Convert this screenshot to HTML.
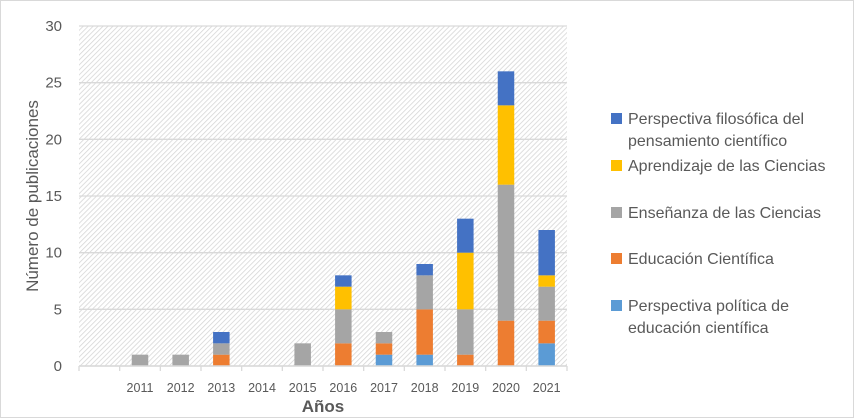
<!DOCTYPE html>
<html><head><meta charset="utf-8">
<style>
body{margin:0;background:#fff;}
svg{display:block;font-family:"Liberation Sans","DejaVu Sans",sans-serif;}
</style></head>
<body>
<svg width="854" height="418" viewBox="0 0 854 418">
<defs>
<pattern id="hatch" patternUnits="userSpaceOnUse" width="3.5" height="3.5" patternTransform="rotate(45)">
<rect width="3.5" height="3.5" fill="#fff"/>
<line x1="0" y1="0" x2="0" y2="3.5" stroke="#d4d4d4" stroke-width="1.5"/>
</pattern>
</defs>
<rect x="0.5" y="0.5" width="853" height="417" fill="#fff" stroke="#d9d9d9"/>
<rect x="79" y="26" width="488" height="340" fill="url(#hatch)"/>
<g id="grid"></g>
<g id="bars"></g>
<g id="xaxis"></g>
<g id="yaxis"></g>
<text transform="translate(38,196) rotate(-90)" text-anchor="middle" font-size="17" fill="#595959">Número de publicaciones</text>
<text x="323" y="412" text-anchor="middle" font-size="17" font-weight="bold" fill="#595959">Años</text>
<g id="legend"></g>
</svg>
<script>
const categories=["","2011","2012","2013","2014","2015","2016","2017","2018","2019","2020","2021"];
const seriesNames=["Perspectiva política de educación científica","Educación Científica","Enseñanza de las Ciencias","Aprendizaje de las Ciencias","Perspectiva filosófica del pensamiento científico"];
const politica=[0,0,0,0,0,0,0,1,1,0,0,2];
const educacion=[0,0,0,1,0,0,2,1,4,1,4,2];
const ensenanza=[0,1,1,1,0,2,3,1,3,4,12,3];
const aprendizaje=[0,0,0,0,0,0,2,0,0,5,7,1];
const filosofica=[0,0,0,1,0,0,1,0,1,3,3,4];
const yTicks=[0,5,10,15,20,25,30];
const colors=["#5b9bd5","#ed7d31","#a5a5a5","#ffc000","#4472c4"];
const series=[politica,educacion,ensenanza,aprendizaje,filosofica];
const NS="http://www.w3.org/2000/svg";
const x0=79,x1=567,yTop=26,yBot=366,yMax=30;
const slot=(x1-x0)/categories.length;
const xc=i=>x0+slot*(i+0.5);
const y=v=>yBot-(v/yMax)*(yBot-yTop);
function mk(tag,attrs,parent){const e=document.createElementNS(NS,tag);for(const k in attrs)e.setAttribute(k,attrs[k]);parent.appendChild(e);return e;}
const grid=document.getElementById('grid'),bars=document.getElementById('bars'),xa=document.getElementById('xaxis'),ya=document.getElementById('yaxis'),lg=document.getElementById('legend');
yTicks.forEach(t=>{
 const l=mk('line',{x1:x0,x2:x1,y1:y(t),y2:y(t),stroke:'#d9d9d9','stroke-width':1.3},grid);
 
 
 const tx=mk('text',{x:62,y:y(t)+5,'text-anchor':'end','font-size':15,fill:'#595959'},ya);
 tx.textContent=t;
 
 
});
const bw=16.5;
categories.forEach((c,i)=>{
 let acc=0;
 series.forEach((s,k)=>{
  const v=s[i];if(v<=0)return;
  const r=mk('rect',{x:xc(i)-bw/2,y:y(acc+v),width:bw,height:y(acc)-y(acc+v),fill:colors[k]},bars);
  
  
  acc+=v;
 });
 const tx=mk('text',{x:xc(i),y:392,'text-anchor':'middle','font-size':12.5,fill:'#595959'},xa);
 tx.textContent=c;
 
 
});
for(let i=0;i<=categories.length;i++){
 const t=mk('line',{x1:x0+slot*i,x2:x0+slot*i,y1:yBot,y2:yBot+5,stroke:'#d9d9d9','stroke-width':1.3},xa);
 
 
}
const base=mk('line',{x1:x0,x2:x1,y1:yBot,y2:yBot,stroke:'#d9d9d9','stroke-width':1.5},xa);


const legendLines=[["Perspectiva filosófica del","pensamiento científico"],["Aprendizaje de las Ciencias"],["Enseñanza de las Ciencias"],["Educación Científica"],["Perspectiva política de","educación científica"]];
const legendColors=[colors[4],colors[3],colors[2],colors[1],colors[0]];
const legendY=[119,166,213,259,306];
legendLines.forEach((ls,i)=>{
 const g=mk('g',{},lg);
 
 
 mk('rect',{x:611,y:legendY[i]-6,width:11,height:11,fill:legendColors[i]},g);
 ls.forEach((t,j)=>{const tx=mk('text',{x:628,y:legendY[i]+5+j*22,'font-size':16,fill:'#595959'},g);tx.textContent=t;});
});
</script>
</body></html>
